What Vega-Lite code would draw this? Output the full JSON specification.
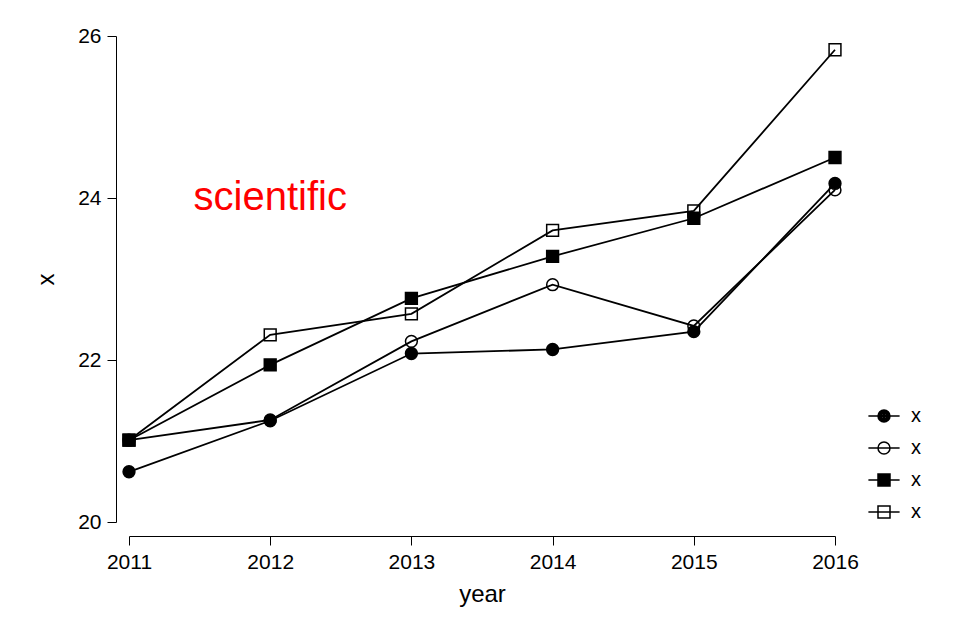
{
  "$schema": "https://vega.github.io/schema/vega-lite/v6.json",
  "width": 706,
  "height": 486,
  "autosize": {"type": "none"},
  "padding": {"left": 129, "top": 36, "right": 128, "bottom": 120},
  "background": "white",
  "config": {
    "view": {"stroke": null},
    "font": "Liberation Sans",
    "axis": {
      "grid": false,
      "domainColor": "black",
      "tickColor": "black",
      "labelColor": "black",
      "titleColor": "black",
      "domainWidth": 1,
      "tickWidth": 1,
      "tickSize": 9,
      "labelFontSize": 21,
      "titleFontSize": 24,
      "titleFontWeight": "normal",
      "labelFont": "Liberation Sans",
      "titleFont": "Liberation Sans",
      "labelFlush": false,
      "labelOverlap": false
    }
  },
  "datasets": {
    "series": [
      {"series": "a", "year": 2011, "x": 20.62},
      {"series": "a", "year": 2012, "x": 21.25},
      {"series": "a", "year": 2013, "x": 22.08},
      {"series": "a", "year": 2014, "x": 22.13},
      {"series": "a", "year": 2015, "x": 22.35},
      {"series": "a", "year": 2016, "x": 24.18},
      {"series": "b", "year": 2011, "x": 21.01},
      {"series": "b", "year": 2012, "x": 21.26},
      {"series": "b", "year": 2013, "x": 22.23},
      {"series": "b", "year": 2014, "x": 22.93},
      {"series": "b", "year": 2015, "x": 22.42},
      {"series": "b", "year": 2016, "x": 24.10},
      {"series": "c", "year": 2011, "x": 21.01},
      {"series": "c", "year": 2012, "x": 21.94},
      {"series": "c", "year": 2013, "x": 22.76},
      {"series": "c", "year": 2014, "x": 23.28},
      {"series": "c", "year": 2015, "x": 23.75},
      {"series": "c", "year": 2016, "x": 24.50},
      {"series": "d", "year": 2011, "x": 21.01},
      {"series": "d", "year": 2012, "x": 22.31},
      {"series": "d", "year": 2013, "x": 22.57},
      {"series": "d", "year": 2014, "x": 23.60},
      {"series": "d", "year": 2015, "x": 23.84},
      {"series": "d", "year": 2016, "x": 25.83}
    ],
    "legendrows": [
      {"series": "a"},
      {"series": "b"},
      {"series": "c"},
      {"series": "d"}
    ],
    "note": [{"year": 2012, "x": 24, "label": "scientific"}]
  },
  "resolve": {"scale": {"shape": "independent", "fill": "independent"}, "legend": {"shape": "independent", "fill": "independent"}},
  "layer": [
    {
      "data": {"name": "series"},
      "mark": {"type": "line", "color": "black", "strokeWidth": 1.8},
      "encoding": {
        "x": {
          "field": "year", "type": "quantitative",
          "scale": {"domain": [2011, 2016], "nice": false, "zero": false},
          "axis": {"values": [2011, 2012, 2013, 2014, 2015, 2016], "format": "d", "offset": 14, "labelPadding": 6, "titlePadding": 10, "title": "year"}
        },
        "y": {
          "field": "x", "type": "quantitative",
          "scale": {"domain": [20, 26], "nice": false, "zero": false},
          "axis": {"values": [20, 22, 24, 26], "format": "d", "offset": 13, "labelPadding": 6, "titlePadding": 19, "title": "x"}
        },
        "detail": {"field": "series"}
      }
    },
    {
      "data": {"name": "series"},
      "mark": {"type": "point", "size": 140, "stroke": "black", "strokeWidth": 1.5, "opacity": 1, "fillOpacity": 1, "strokeOpacity": 1},
      "encoding": {
        "x": {"field": "year", "type": "quantitative"},
        "y": {"field": "x", "type": "quantitative"},
        "fill": {
          "field": "series", "type": "nominal",
          "scale": {"domain": ["a", "b", "c", "d"], "range": ["black", "transparent", "black", "transparent"]},
          "legend": null
        },
        "shape": {
          "field": "series", "type": "nominal",
          "scale": {"domain": ["a", "b", "c", "d"], "range": ["circle", "circle", "square", "square"]},
          "legend": null
        }
      }
    },
    {
      "data": {"name": "legendrows"},
      "mark": {"type": "point", "size": 144, "stroke": "black", "strokeWidth": 1.5, "fillOpacity": 0, "strokeOpacity": 0},
      "encoding": {
        "shape": {
          "field": "series", "type": "nominal",
          "scale": {"domain": ["a", "b", "c", "d"], "range": [
            "M-2.6,0H2.6M1,0A1,1,0,1,1,-1,0A1,1,0,1,1,1,0ZM0.75,0A0.75,0.75,0,1,1,-0.75,0A0.75,0.75,0,1,1,0.75,0ZM0.5,0A0.5,0.5,0,1,1,-0.5,0A0.5,0.5,0,1,1,0.5,0ZM0.25,0A0.25,0.25,0,1,1,-0.25,0A0.25,0.25,0,1,1,0.25,0Z",
            "M-2.6,0H2.6M1,0A1,1,0,1,1,-1,0A1,1,0,1,1,1,0Z",
            "M-2.6,0H2.6M-1,-1H1V1H-1ZM-0.75,-0.75H0.75V0.75H-0.75ZM-0.5,-0.5H0.5V0.5H-0.5ZM-0.25,-0.25H0.25V0.25H-0.25Z",
            "M-2.6,0H2.6M-1,-1H1V1H-1Z"
          ]},
          "legend": {
            "orient": "none", "legendX": 745, "legendY": 370, "title": null,
            "labelExpr": "'x'", "labelFontSize": 20, "labelColor": "black", "labelOffset": 17,
            "symbolSize": 144, "symbolStrokeWidth": 1.5, "symbolStrokeColor": "black", "symbolOpacity": 1, "rowPadding": 12
          }
        }
      }
    },
    {
      "data": {"name": "note"},
      "mark": {"type": "text", "color": "red", "fontSize": 40, "align": "center", "baseline": "middle", "font": "Liberation Sans"},
      "encoding": {
        "x": {"field": "year", "type": "quantitative"},
        "y": {"field": "x", "type": "quantitative"},
        "text": {"field": "label"}
      }
    }
  ]
}
